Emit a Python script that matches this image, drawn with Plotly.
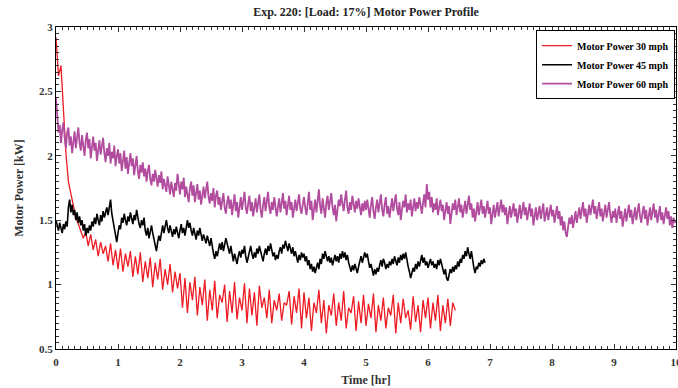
import numpy as np
import plotly.graph_objects as go

DT_30 = 0.04  # sampling step [hr] of the 30 mph record
DT_45 = 0.02  # sampling step [hr] of the 45 mph record
DT_60 = 0.02  # sampling step [hr] of the 60 mph record

power_30 = [
    2.92, 2.62, 2.70, 2.30, 2.02, 1.80, 1.70, 1.62, 1.52, 1.47, 1.42, 1.36, 1.41, 1.30, 1.39, 1.27, 1.35, 1.22, 1.33, 1.24, 1.30, 1.18, 1.32, 1.15, 1.27,
    1.12, 1.28, 1.10, 1.24, 1.14, 1.26, 1.06, 1.22, 1.08, 1.25, 1.02, 1.18, 1.05, 1.21, 0.98, 1.17, 1.04, 1.20, 0.96, 1.12, 1.00, 1.16, 0.94, 1.10, 0.97,
    1.09, 0.82, 1.05, 0.78, 1.02, 0.88, 1.06, 0.76, 0.98, 0.84, 1.04, 0.72, 0.96, 0.80, 1.03, 0.74, 0.92, 0.86, 1.00, 0.71, 0.95, 0.78, 1.02, 0.73, 0.90,
    0.80, 1.01, 0.70, 0.97, 0.76, 0.94, 0.68, 0.99, 0.82, 0.90, 0.74, 0.96, 0.70, 0.88, 0.80, 0.93, 0.72, 0.86, 0.84, 0.95, 0.69, 0.91, 0.78, 0.97, 0.66,
    0.94, 0.74, 0.90, 0.64, 0.86, 0.78, 0.96, 0.70, 0.88, 0.62, 0.84, 0.76, 0.93, 0.68, 0.86, 0.72, 0.95, 0.66, 0.82, 0.78, 0.91, 0.64, 0.87, 0.70, 0.92,
    0.68, 0.85, 0.74, 0.93, 0.63, 0.84, 0.72, 0.90, 0.66, 0.82, 0.76, 0.92, 0.62, 0.86, 0.70, 0.89, 0.74, 0.80, 0.65, 0.91, 0.71, 0.84, 0.63, 0.88, 0.74,
    0.90, 0.66, 0.86, 0.72, 0.92, 0.64, 0.84, 0.70, 0.89, 0.68, 0.86, 0.80,
]

power_45 = [
    1.50, 1.45, 1.42, 1.48, 1.44, 1.40, 1.47, 1.43, 1.49, 1.45,
    1.60, 1.66, 1.56, 1.62, 1.54, 1.58, 1.50, 1.56, 1.48, 1.53,
    1.46, 1.50, 1.42, 1.47, 1.38, 1.44, 1.40, 1.46, 1.42, 1.49,
    1.45, 1.52, 1.47, 1.55, 1.50, 1.46, 1.54, 1.49, 1.57, 1.52,
    1.56, 1.60, 1.54, 1.62, 1.66, 1.55, 1.50, 1.44, 1.38, 1.33,
    1.40, 1.46, 1.43, 1.52, 1.48, 1.55, 1.50, 1.46, 1.53, 1.49,
    1.56, 1.51, 1.47, 1.54, 1.50, 1.58, 1.52, 1.47, 1.44, 1.50,
    1.46, 1.52, 1.42, 1.38, 1.44, 1.36, 1.41, 1.46, 1.40, 1.35,
    1.30, 1.26, 1.33, 1.38, 1.34, 1.42, 1.46, 1.40, 1.45, 1.50,
    1.44, 1.40, 1.46, 1.42, 1.37, 1.43, 1.39, 1.45, 1.41, 1.36,
    1.42, 1.47, 1.40, 1.44, 1.38, 1.45, 1.50, 1.44, 1.48, 1.42,
    1.38, 1.44, 1.40, 1.35, 1.42, 1.38, 1.44, 1.40, 1.34, 1.39,
    1.35, 1.32, 1.38, 1.34, 1.30, 1.36, 1.28, 1.24, 1.20, 1.26,
    1.22, 1.28, 1.32, 1.27, 1.33, 1.26, 1.30, 1.36, 1.32, 1.28,
    1.24, 1.30, 1.22, 1.18, 1.24, 1.20, 1.16, 1.22, 1.26, 1.21,
    1.27, 1.24, 1.30, 1.22, 1.17, 1.21, 1.26, 1.30, 1.24, 1.20,
    1.25, 1.21, 1.28, 1.24, 1.30, 1.26, 1.22, 1.18, 1.24, 1.28,
    1.23, 1.30, 1.26, 1.32, 1.27, 1.22, 1.25, 1.19, 1.23, 1.20,
    1.26, 1.29, 1.24, 1.31, 1.28, 1.34, 1.30, 1.26, 1.32, 1.28,
    1.24, 1.29, 1.22, 1.26, 1.20, 1.17, 1.23, 1.19, 1.25, 1.21,
    1.24, 1.18, 1.22, 1.15, 1.19, 1.12, 1.16, 1.10, 1.14, 1.09,
    1.13, 1.17, 1.12, 1.20, 1.16, 1.24, 1.20, 1.26, 1.22, 1.18,
    1.22, 1.17, 1.21, 1.15, 1.19, 1.23, 1.18, 1.22, 1.17, 1.24,
    1.20, 1.26, 1.21, 1.25, 1.19, 1.23, 1.17, 1.14, 1.10, 1.15,
    1.11, 1.16, 1.12, 1.09, 1.14, 1.18, 1.22, 1.17, 1.21, 1.25,
    1.21, 1.24, 1.18, 1.13, 1.16, 1.10, 1.07, 1.12, 1.08, 1.13,
    1.10, 1.15, 1.19, 1.14, 1.20, 1.17, 1.12, 1.16, 1.13, 1.18,
    1.15, 1.20, 1.16, 1.22, 1.18, 1.15, 1.21, 1.17, 1.23, 1.19,
    1.24, 1.20, 1.25, 1.18, 1.14, 1.10, 1.05, 1.09, 1.13, 1.10,
    1.16, 1.12, 1.18, 1.14, 1.20, 1.23, 1.17, 1.21, 1.15, 1.18,
    1.13, 1.17, 1.20, 1.15, 1.18, 1.13, 1.16, 1.12, 1.19, 1.15,
    1.20, 1.16, 1.12, 1.08, 1.12, 1.05, 1.03, 1.08, 1.12, 1.09,
    1.14, 1.10, 1.15, 1.12, 1.18, 1.14, 1.20, 1.17, 1.23, 1.20,
    1.26, 1.22, 1.29, 1.24, 1.20, 1.26, 1.18, 1.13, 1.09, 1.14,
    1.12, 1.17, 1.14, 1.19, 1.16, 1.20, 1.17,
]

power_60 = [
    2.45, 2.30, 2.18, 2.24, 2.10, 2.20, 2.26, 2.14, 2.06, 2.18,
    2.22, 2.08, 2.15, 2.02, 2.12, 2.19, 2.06, 2.14, 2.22, 2.10,
    2.04, 2.16, 2.08, 2.00, 2.12, 2.18, 2.06, 2.13, 1.98, 2.08,
    2.15, 2.04, 2.10, 1.96, 2.06, 2.12, 2.01, 2.09, 2.14, 2.02,
    1.95, 2.06, 2.00, 2.10, 1.94, 2.03, 1.98, 2.08, 1.92, 2.00,
    2.05, 1.94, 2.02, 1.88, 1.97, 2.04, 1.90, 1.99, 1.86, 1.95,
    2.02, 1.92, 1.98, 1.85, 1.94, 2.00, 1.88, 1.82, 1.93, 1.87,
    1.95, 1.84, 1.90, 1.80, 1.88, 1.93, 1.82, 1.77, 1.86, 1.80,
    1.89, 1.83, 1.76, 1.85, 1.79, 1.88, 1.74, 1.82, 1.78, 1.72,
    1.84, 1.77, 1.70, 1.80, 1.74, 1.68, 1.79, 1.73, 1.86, 1.78,
    1.70, 1.80, 1.74, 1.83, 1.68, 1.76, 1.71, 1.64, 1.75, 1.80,
    1.69, 1.77, 1.64, 1.72, 1.78, 1.66, 1.73, 1.62, 1.70, 1.76,
    1.67, 1.74, 1.80, 1.68, 1.63, 1.71, 1.65, 1.75, 1.60, 1.69,
    1.73, 1.62, 1.68, 1.58, 1.66, 1.71, 1.60, 1.55, 1.64, 1.69,
    1.59, 1.66, 1.54, 1.62, 1.70, 1.57, 1.64, 1.52, 1.61, 1.68,
    1.58, 1.66, 1.72, 1.60, 1.55, 1.63, 1.69, 1.57, 1.64, 1.53,
    1.61, 1.67, 1.56, 1.63, 1.70, 1.58, 1.52, 1.62, 1.68, 1.57,
    1.65, 1.72, 1.60, 1.55, 1.64, 1.58, 1.68, 1.62, 1.53, 1.60,
    1.67, 1.56, 1.63, 1.71, 1.59, 1.65, 1.54, 1.61, 1.69, 1.58,
    1.64, 1.52, 1.60, 1.66, 1.57, 1.63, 1.70, 1.59, 1.55, 1.62,
    1.68, 1.60, 1.54, 1.63, 1.72, 1.58, 1.65, 1.50, 1.59, 1.66,
    1.56, 1.64, 1.74, 1.61, 1.55, 1.67, 1.60, 1.52, 1.63, 1.69,
    1.58, 1.65, 1.71, 1.60, 1.54, 1.62, 1.49, 1.58, 1.66, 1.61,
    1.70, 1.63, 1.57, 1.66, 1.73, 1.60, 1.55, 1.64, 1.58, 1.69,
    1.62, 1.56, 1.65, 1.59, 1.67, 1.61, 1.54, 1.63, 1.57, 1.65,
    1.58, 1.66, 1.60, 1.52, 1.62, 1.68, 1.57, 1.51, 1.60, 1.66,
    1.56, 1.64, 1.70, 1.58, 1.53, 1.62, 1.68, 1.55, 1.61, 1.52,
    1.60, 1.67, 1.57, 1.63, 1.70, 1.59, 1.54, 1.64, 1.50, 1.58,
    1.65, 1.60, 1.70, 1.56, 1.63, 1.58, 1.66, 1.53, 1.61, 1.67,
    1.57, 1.64, 1.59, 1.68, 1.62, 1.55, 1.63, 1.70, 1.60, 1.78,
    1.66, 1.72, 1.60, 1.68, 1.56, 1.63, 1.58, 1.67, 1.54, 1.61,
    1.66, 1.57, 1.62, 1.50, 1.58, 1.64, 1.55, 1.61, 1.47, 1.56,
    1.63, 1.58, 1.66, 1.54, 1.60, 1.67, 1.56, 1.62, 1.52, 1.59,
    1.65, 1.55, 1.61, 1.69, 1.58, 1.63, 1.52, 1.59, 1.49, 1.57,
    1.64, 1.54, 1.60, 1.66, 1.55, 1.61, 1.52, 1.58, 1.65, 1.55,
    1.60, 1.47, 1.55, 1.62, 1.52, 1.58, 1.64, 1.53, 1.60, 1.66,
    1.56, 1.62, 1.54, 1.60, 1.47, 1.55, 1.61, 1.52, 1.58, 1.63,
    1.53, 1.59, 1.48, 1.56, 1.62, 1.51, 1.57, 1.64, 1.54, 1.60,
    1.50, 1.57, 1.63, 1.53, 1.59, 1.46, 1.54, 1.60, 1.50, 1.56,
    1.61, 1.51, 1.57, 1.63, 1.49, 1.55, 1.60, 1.50, 1.56, 1.62,
    1.53, 1.58, 1.48, 1.55, 1.61, 1.51, 1.57, 1.46, 1.53, 1.42,
    1.49, 1.40, 1.37, 1.45, 1.52, 1.47, 1.54, 1.44, 1.50, 1.57,
    1.48, 1.55, 1.60, 1.51, 1.58, 1.64, 1.53, 1.59, 1.48, 1.56,
    1.62, 1.54, 1.60, 1.66, 1.55, 1.61, 1.51, 1.58, 1.64, 1.53,
    1.59, 1.49, 1.56, 1.62, 1.52, 1.58, 1.64, 1.54, 1.48, 1.57,
    1.52, 1.59, 1.48, 1.55, 1.61, 1.51, 1.57, 1.45, 1.53, 1.59,
    1.49, 1.56, 1.62, 1.52, 1.58, 1.47, 1.54, 1.60, 1.50, 1.57,
    1.63, 1.53, 1.48, 1.56, 1.61, 1.51, 1.58, 1.46, 1.54, 1.60,
    1.50, 1.57, 1.63, 1.52, 1.58, 1.48, 1.55, 1.61, 1.50, 1.56,
    1.47, 1.54, 1.60, 1.51, 1.57, 1.46, 1.53, 1.44, 1.52, 1.48,
    1.50,
]

series_names = ["Motor Power 30 mph", "Motor Power 45 mph", "Motor Power 60 mph"]
series_values = [power_30, power_45, power_60]
series_steps = [DT_30, DT_45, DT_60]
series_colors = ["#ED1C24", "#000000", "#B24C9E"]
series_widths = [1.3, 1.6, 1.8]

x_range = [0, 10]
y_range = [0.5, 3]

FONT = "Liberation Serif"
TICK_GREY = "#333333"

fig = go.Figure()
for name, vals, dt, col, w in zip(series_names, series_values, series_steps,
                                  series_colors, series_widths):
    t = np.arange(len(vals)) * dt
    fig.add_trace(go.Scatter(x=t, y=vals, mode="lines", name=name,
                             line=dict(color=col, width=w)))

# empty trace to carry the mirrored (top/right) tick axes
fig.add_trace(go.Scatter(x=[], y=[], xaxis="x2", yaxis="y2",
                         showlegend=False, hoverinfo="skip"))

tickfont = dict(family=FONT, size=11, color=TICK_GREY, weight="bold")
axis_common = dict(
    showline=True, linecolor="black", linewidth=1, mirror=True,
    ticks="inside", ticklen=5, tickcolor=TICK_GREY, tickwidth=1,
    showgrid=False, zeroline=False, tickfont=tickfont, automargin=False,
)

fig.update_layout(
    width=678, height=388,
    margin=dict(l=56, r=2, t=27, b=39, autoexpand=False),
    paper_bgcolor="white", plot_bgcolor="white",
    title=dict(text="Exp. 220: [Load: 17%] Motor Power Profile",
               x=0.5, xref="paper", yref="container", y=1 - 12 / 388, yanchor="middle",
               font=dict(family=FONT, size=12, color="#222222", weight="bold")),
    xaxis=dict(range=x_range, dtick=1, ticklabeloverflow="allow", ticklabelstandoff=3,
               minor=dict(dtick=0.1, ticks="inside", ticklen=3, tickcolor=TICK_GREY),
               title=dict(text="Time [hr]", standoff=8,
                          font=dict(family=FONT, size=12, color=TICK_GREY, weight="bold")),
               **axis_common),
    yaxis=dict(range=y_range, dtick=0.5,
               minor=dict(dtick=0.05, ticks="inside", ticklen=3, tickcolor=TICK_GREY),
               title=dict(text="Motor Power [kW]", standoff=12,
                          font=dict(family=FONT, size=12, color=TICK_GREY, weight="bold")),
               **axis_common),
    xaxis2=dict(range=x_range, dtick=1, overlaying="x", side="top", anchor="y2",
                showticklabels=False, ticks="inside", ticklen=5, tickcolor=TICK_GREY,
                minor=dict(dtick=0.1, ticks="inside", ticklen=3, tickcolor=TICK_GREY),
                showgrid=False, zeroline=False, showline=False, automargin=False),
    yaxis2=dict(range=y_range, dtick=0.5, overlaying="y", side="right", anchor="x2",
                showticklabels=False, ticks="inside", ticklen=5, tickcolor=TICK_GREY,
                minor=dict(dtick=0.05, ticks="inside", ticklen=3, tickcolor=TICK_GREY),
                showgrid=False, zeroline=False, showline=False, automargin=False),
    legend=dict(x=0.9985, y=0.99, xanchor="right", yanchor="top",
                bgcolor="white", bordercolor="black", borderwidth=1,
                font=dict(family=FONT, size=10, color="black", weight="bold"),
                itemwidth=30, tracegroupgap=0),
    showlegend=True,
)

fig.write_html("out.html")
